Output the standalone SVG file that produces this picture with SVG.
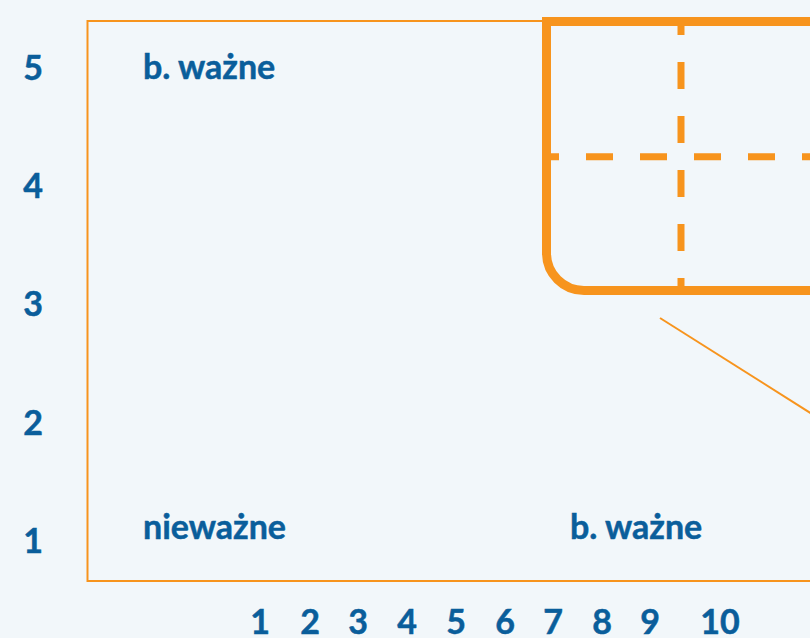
<svg xmlns="http://www.w3.org/2000/svg" width="810" height="638" viewBox="0 0 810 638">
<style>
.lbl{font-family:Lato,"Liberation Sans",sans-serif;font-weight:bold;font-size:34px;fill:#0a5e9b;stroke:#0a5e9b;stroke-width:0.5}
.num{font-family:Lato,"Liberation Sans",sans-serif;font-weight:bold;font-size:34px;fill:#0a5e9b;stroke:#0a5e9b;stroke-width:0.5;text-anchor:middle}
.thin{fill:none;stroke:#f7941d;stroke-width:2}
.dash{fill:none;stroke:#f7941d;stroke-width:7;stroke-dasharray:27 27}
</style>
<rect width="810" height="638" fill="#f2f7fa"/>
<g id="frame">
<rect class="thin" x="87.5" y="21" width="760" height="560"/>
</g>
<g id="axis-y">
<text class="num" x="33" y="80">5</text>
<text class="num" x="33" y="198">4</text>
<text class="num" x="33" y="316">3</text>
<text class="num" x="33" y="435">2</text>
<text class="num" x="33" y="553">1</text>
</g>
<g id="axis-x">
<text class="num" x="260" y="634">1</text>
<text class="num" x="310" y="634">2</text>
<text class="num" x="358" y="634">3</text>
<text class="num" x="407" y="634">4</text>
<text class="num" x="456" y="634">5</text>
<text class="num" x="505" y="634">6</text>
<text class="num" x="553" y="634">7</text>
<text class="num" x="602" y="634">8</text>
<text class="num" x="650" y="634">9</text>
<text class="num" x="720" y="634">10</text>
</g>
<g id="label-top-left"><text class="lbl" x="143" y="79">b. ważne</text></g>
<g id="label-bottom-left"><text class="lbl" x="143" y="539">nieważne</text></g>
<g id="label-bottom-mid"><text class="lbl" x="570" y="539">b. ważne</text></g>
<g id="zoom-box">
<line class="dash" x1="681" y1="21" x2="681" y2="290" stroke-dashoffset="13"/>
<line class="dash" x1="546" y1="156.7" x2="820" y2="156.7" stroke-dashoffset="14"/>
<path d="M 830 21.5 H 546.5 V 253 A 37.5 37.5 0 0 0 584 290.5 H 830" fill="none" stroke="#f7941d" stroke-width="9"/>
</g>
<g id="connectors">
<line class="thin" x1="660" y1="318" x2="812" y2="414"/>
</g>
</svg>
